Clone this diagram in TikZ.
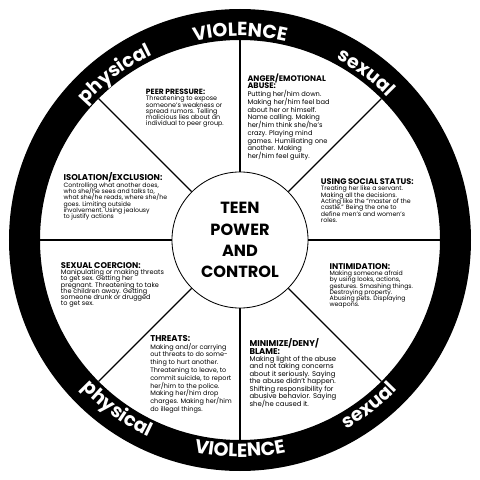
\documentclass[tikz,border=0pt]{standalone}
\usepackage{fontspec}
\setmainfont{Poppins}
\usetikzlibrary{decorations.text}
\newcommand\blurbsize[2]{\fontsize{#1}{#2}\selectfont\lineskiplimit=-20pt}
\newcommand\ringfont{\bfseries\fontsize{13.5}{13.5}\selectfont}

\begin{document}
\begin{tikzpicture}[
    x=0.025cm,
    y=0.025cm,
    blurb/.style={anchor=north west, align=left, inner sep=0pt},
    spoke/.style={line width=0.85pt},
    hub/.style={circle, draw, line width=0.6pt, minimum size=3.4cm, inner sep=0pt,
      align=center, font=\bfseries\fontsize{11.5}{15}\selectfont},
    ringword/.style={decorate, decoration={text along path, text align=center,
      text color=white, text={|\ringfont|#1}}}
  ]
    \useasboundingbox (-240,-240) rectangle (240,240);

    % --- Black rim ---
    \fill[black, even odd rule] (0,0) circle (231) (0,0) circle (200);

    \path[ringword=VIOLENCE] (120:204) arc[start angle=120, end angle=60, radius=204];
    \path[ringword=physical] (157:205) arc[start angle=157, end angle=97, radius=205];
    \path[ringword=sexual] (83:205) arc[start angle=83, end angle=23, radius=205];
    \path[ringword=physical] (204:217) arc[start angle=204, end angle=264, radius=217];
    \path[ringword=VIOLENCE] (240:217) arc[start angle=240, end angle=300, radius=217];
    \path[ringword=sexual] (278:217) arc[start angle=278, end angle=338, radius=217];

    % --- Hub and spokes ---
    \node[hub] (hub) at (0,0) {TEEN\\POWER\\AND\\CONTROL};
    \foreach \a in {0,45,...,315} {
      \draw[spoke] (hub.\a) -- (\a:200);
    }

    % --- Peer pressure ---
    \node[blurb, font=\blurbsize{4.55}{4.45}] (peer) at (-94.3,151)
      {{\bfseries\blurbsize{5.4}{4.45}PEER PRESSURE:}\\
       Threatening to expose\\
       someone's weakness or\\
       spread rumors.  Telling\\
       malicious lies about an\\
       individual to peer group.};

    % --- Anger ---
    \node[blurb, font=\blurbsize{4.75}{5.5}] (anger) at (7.3,166.7)
      {{\bfseries\blurbsize{5.7}{5.5}ANGER/EMOTIONAL}\\
       {\bfseries\blurbsize{5.7}{5.5}ABUSE:}\\
       Putting her/him down.\\
       Making her/him feel bad\\
       about her or himself.\\
       Name calling.  Making\\
       her/him think she/he's\\
       crazy.  Playing mind\\
       games.  Humiliating one\\
       another.  Making\\
       her/him feel guilty.};

    % --- Isolation ---
    \node[blurb, font=\blurbsize{4.4}{4.5}] (isolation) at (-176.7,67.3)
      {{\bfseries\blurbsize{6.0}{4.6}ISOLATION/EXCLUSION:}\\
       Controlling what another does,\\
       who she/he sees and talks to,\\
       what she/he reads, where she/he\\
       goes.  Limiting outside\\
       involvement.  Using jealousy\\
       to justify actions};

    % --- Social status ---
    \node[blurb, font=\blurbsize{4.45}{4.5}] (status) at (80.7,61.7)
      {{\bfseries\blurbsize{5.8}{4.5}USING SOCIAL STATUS:}\\
       Treating her like a servant.\\
       Making all the decisions.\\
       Acting like the “master of the\\
       castle.”  Being the one to\\
       define men's and women's\\
       roles.};

    % --- Sexual coercion ---
    \node[blurb, font=\blurbsize{4.65}{4.4}] (coercion) at (-179.3,-22.3)
      {{\bfseries\blurbsize{5.9}{4.6}SEXUAL COERCION:}\\
       Manipulating or making threats\\
       to get sex.  Getting her\\
       pregnant.  Threatening to take\\
       the children away.  Getting\\
       someone drunk or drugged\\
       to get sex.};

    % --- Intimidation ---
    \node[blurb, font=\blurbsize{4.4}{4.4}] (intim) at (89.3,-23.3)
      {{\bfseries\blurbsize{5.9}{4.6}INTIMIDATION:}\\
       Making someone afraid\\
       by using looks, actions,\\
       gestures.  Smashing things.\\
       Destroying property.\\
       Abusing pets.  Displaying\\
       weapons.};

    % --- Threats ---
    \node[blurb, font=\blurbsize{4.6}{5.55}] (threats) at (-90,-95)
      {{\bfseries\blurbsize{6.0}{5.55}THREATS:}\\
       Making and/or carrying\\
       out threats to do some-\\
       thing to hurt another.\\
       Threatening to leave, to\\
       commit suicide, to report\\
       her/him to the police.\\
       Making her/him drop\\
       charges.  Making her/him\\
       do illegal things.};

    % --- Minimize ---
    \node[blurb, font=\blurbsize{4.9}{5.3}] (minimize) at (9.3,-98.3)
      {{\bfseries\blurbsize{6.0}{5.3}MINIMIZE/DENY/}\\
       {\bfseries\blurbsize{6.0}{5.3}BLAME:}\\
       Making light of the abuse\\
       and not taking concerns\\
       about it seriously.  Saying\\
       the abuse didn't happen.\\
       Shifting responsibility for\\
       abusive behavior.  Saying\\
       she/he caused it.};
  \end{tikzpicture}
\end{document}
